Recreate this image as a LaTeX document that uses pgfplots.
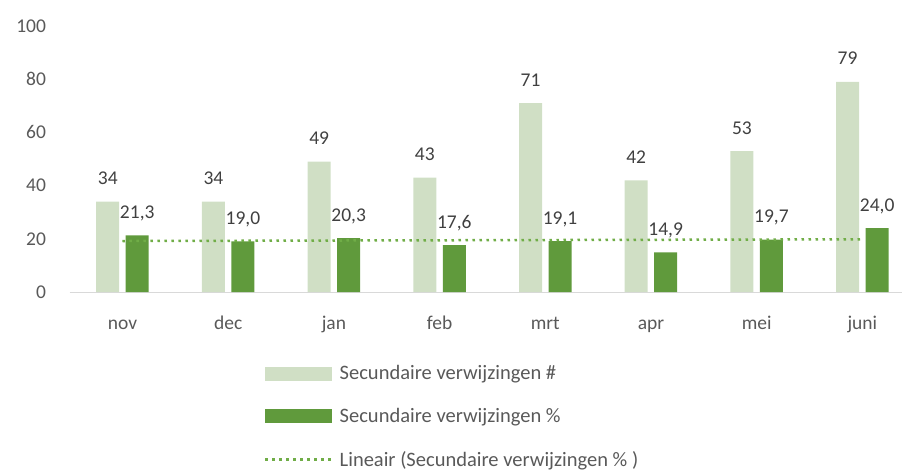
\documentclass[border=0pt]{standalone}
\usepackage{pgfplots}
\usepackage{pgfplotstable}
\pgfplotsset{compat=1.18}
\usepackage{fontspec}
\setmainfont{Carlito}
\definecolor{lightbar}{HTML}{D0DFC5}
\definecolor{darkbar}{HTML}{609A3C}
\definecolor{trend}{HTML}{70AD47}
\definecolor{txt}{HTML}{595959}
\definecolor{lbl}{HTML}{404040}
\definecolor{axisgray}{HTML}{D9D9D9}
\pgfplotstableread{
x n pct
0 34 21.3
1 34 19.0
2 49 20.3
3 43 17.6
4 71 19.1
5 42 14.9
6 53 19.7
7 79 24.0
}\data
\begin{document}
\begin{tikzpicture}
\useasboundingbox (0,0) rectangle (902bp,472bp);
\begin{axis}[
  at={(69.65bp,180bp)}, anchor=south west,
  scale only axis, width=832.35bp, height=266bp,
  xmin=-0.5, xmax=7.375, ymin=0, ymax=100,
  clip=false,
  ybar, bar width=23bp,
  axis x line*=bottom, axis y line*=left,
  x axis line style={draw=axisgray, line width=1bp, -},
  y axis line style={draw=none},
  major tick length=0pt,
  xtick={0,...,7},
  xticklabels={nov,dec,jan,feb,mrt,apr,mei,juni},
  ytick={0,20,...,100},
  font=\fontsize{19.5bp}{22bp}\selectfont,
  tick label style={text=txt, font=\fontsize{19.5bp}{22bp}\selectfont},
  xticklabel style={anchor=base, inner sep=0pt, yshift=-37bp},
  yticklabel style={anchor=east, inner sep=0pt, xshift=-23.5bp},
  /pgf/number format/assume math mode=true,
  legend style={at={(0.2335,-0.2765)}, anchor=north west, draw=none, fill=none,
    font=\fontsize{20.5bp}{22bp}\selectfont, text=txt,
    row sep=27bp, inner sep=0pt,
    nodes={inner sep=0pt, outer sep=0pt}},
  legend cell align=left,
  every node near coord/.append style={text=lbl, anchor=base, inner sep=0pt, yshift=17bp,
    font=\fontsize{19.5bp}{22bp}\selectfont},
]
\addplot[fill=lightbar, draw=none, bar shift=-14.75bp,
  nodes near coords,
  legend image code/.code={\fill[lightbar] (0bp,-7bp) rectangle (67bp,7bp); \path (73bp,0bp);}]
  table[x=x, y=n] {\data};
\addlegendentry{Secundaire verwijzingen \#}
\addplot[fill=darkbar, draw=none, bar shift=14.75bp,
  nodes near coords,
  nodes near coords style={/pgf/number format/.cd, fixed, fixed zerofill, precision=1, use comma, assume math mode=true},
  legend image code/.code={\fill[darkbar] (0bp,-7bp) rectangle (67bp,7bp); \path (73bp,0bp);}]
  table[x=x, y=pct] {\data};
\addlegendentry{Secundaire verwijzingen \%}
\addplot[sharp plot, trend, line width=2.5bp, dash pattern=on 2.5bp off 4.5bp, mark=none,
  legend image code/.code={\draw[trend, line width=2.5bp, dash pattern=on 2.5bp off 4.5bp] (0bp,0bp) -- (67bp,0bp); \path (73bp,0bp);}]
  table[x=x, y={create col/linear regression={y=pct}}] {\data};
\addlegendentry{Lineair (Secundaire verwijzingen \% )}
\end{axis}
\end{tikzpicture}
\end{document}
